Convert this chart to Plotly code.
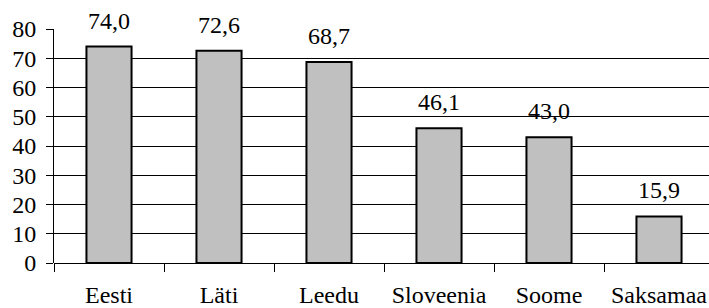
import plotly.graph_objects as go

categories = ["Eesti", "Läti", "Leedu", "Sloveenia", "Soome", "Saksamaa"]
values = [74.0, 72.6, 68.7, 46.1, 43.0, 15.9]
value_labels = ["74,0", "72,6", "68,7", "46,1", "43,0", "15,9"]

FONT = "Liberation Serif, Times New Roman, serif"
FS = 24

fig = go.Figure()
fig.add_trace(go.Bar(
    x=categories, y=values, width=0.41,
    marker=dict(color="#c0c0c0", line=dict(color="black", width=2)),
    hoverinfo="skip",
))

for c, v, t in zip(categories, values, value_labels):
    fig.add_annotation(x=c, y=v, text=t, showarrow=False, yanchor="bottom",
                       yshift=11, font=dict(family=FONT, size=FS, color="black"))

fig.update_layout(
    width=709, height=308,
    margin=dict(l=54, r=0, t=29, b=45),
    paper_bgcolor="white", plot_bgcolor="white",
    showlegend=False,
    font=dict(family=FONT, size=FS, color="black"),
    xaxis=dict(
        range=[-0.5, 5.4545], tickson="boundaries", ticks="outside", ticklen=8,
        tickcolor="black", tickwidth=1, showline=False, showgrid=False,
        automargin=False,
        ticklabelstandoff=15, tickfont=dict(family=FONT, size=FS, color="black"),
    ),
    yaxis=dict(
        range=[0, 80], dtick=10, ticks="outside", ticklen=7, tickcolor="black",
        showline=True, linecolor="black", linewidth=1,
        showgrid=True, gridcolor="black", gridwidth=1,
        zeroline=True, zerolinecolor="black", zerolinewidth=1,
        automargin=False,
        tickfont=dict(family=FONT, size=FS, color="black"), ticklabelstandoff=5,
    ),
)

fig.write_html(
    "out.html",
    config={"displayModeBar": False},
    post_script="document.body.style.margin='0';document.body.style.overflow='hidden';",
)
